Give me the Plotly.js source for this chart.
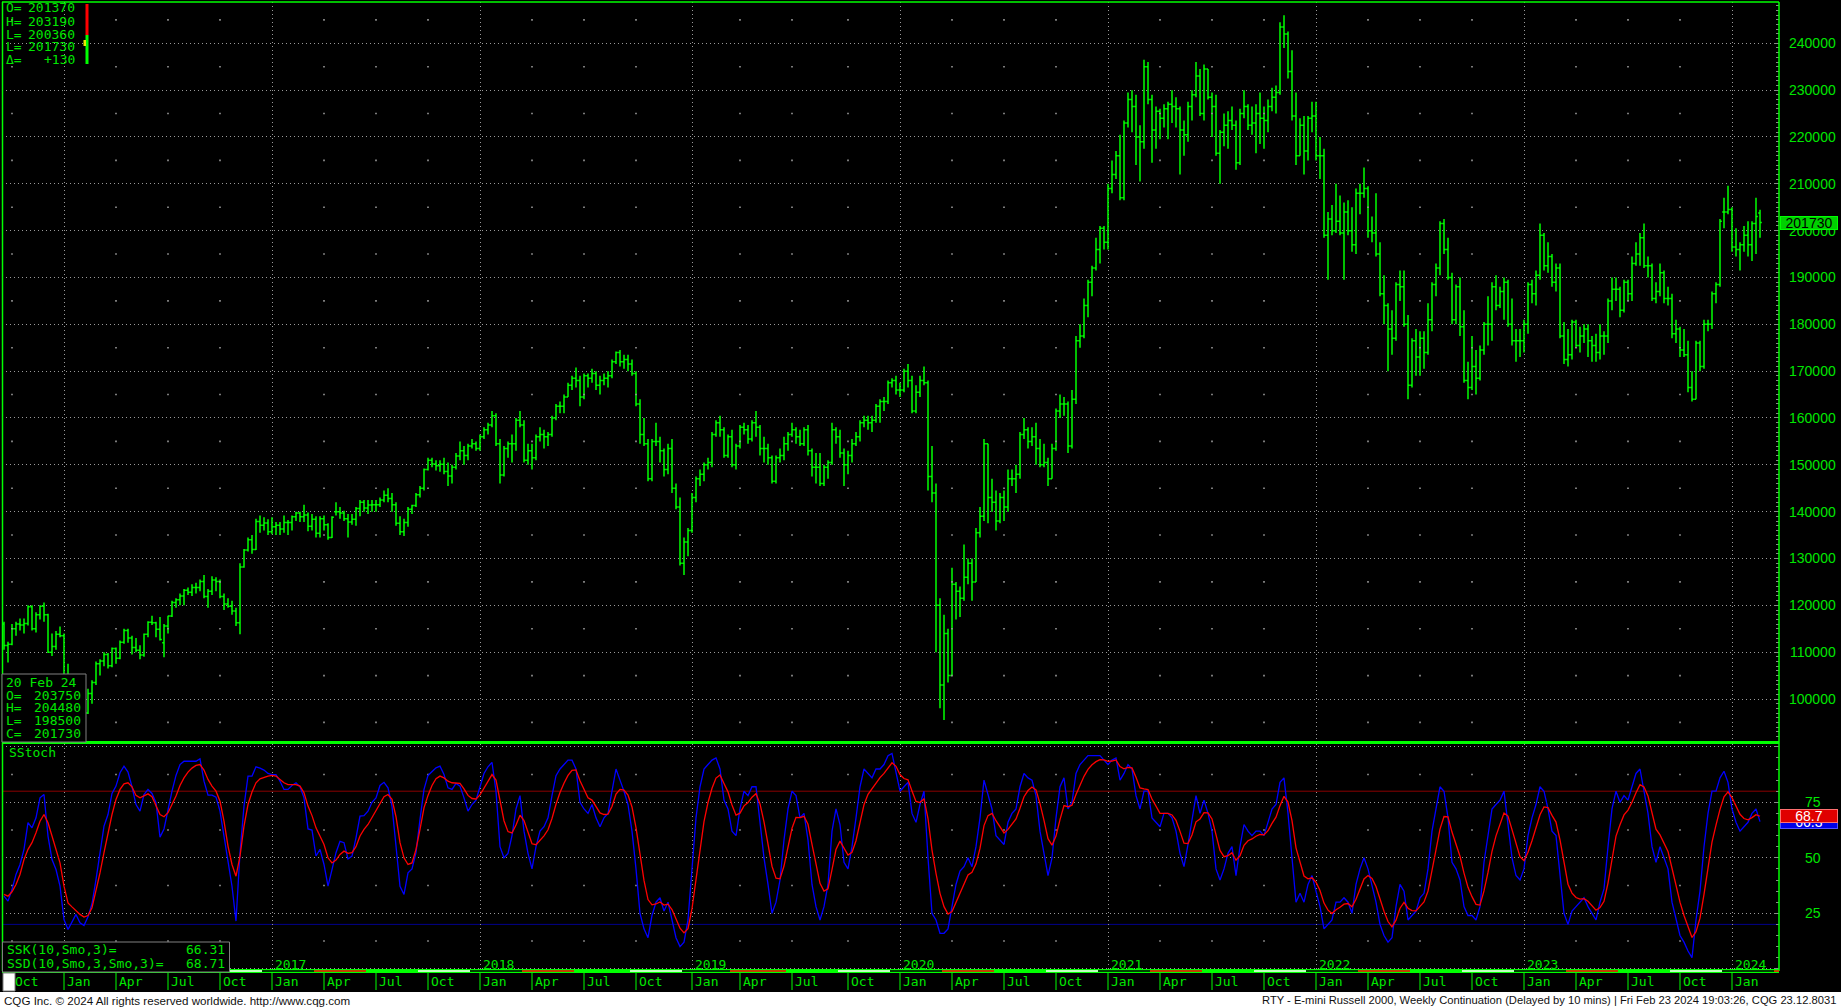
<!DOCTYPE html>
<html><head><meta charset="utf-8">
<script src="https://cdn.plot.ly/plotly-3.0.1.min.js"></script>
<style>html,body{margin:0;padding:0;background:#000;overflow:hidden}#chart{width:1841px;height:1008px}</style>
</head><body><div id="chart"></div>
<script>
// ---------------- DATA (weekly bars, first bar = week of 21 Sep 2015) ----------------
const firstWeek = '2015-09-21';
const openP = [
116000,111400,111700,115000,116000,115800,116100,119700,115000,118000,119800,118000,110000,111200,113800,
113500,104700,100700,101000,103500,98600,97000,101200,103500,107500,108100,109500,107100,110800,108700,112100,114600,113000,111000,110400,109400,113800,116400,116300,114900,112000,115600,117700,120600,121200,122000,123200,122800,123800,123800,125100,121900,123000,125400,125100,121900,120300,119800,118800,116300,128200,131800,134000,131900,137900,137100,137600,
135700,136800,137100,136300,137700,137700,138900,139700,138900,139300,136900,138400,135400,138500,137200,134500,140000,140000,139700,138500,137800,138400,140700,142000,140800,141400,141500,141500,142500,143500,142800,141500,137500,135700,137700,140500,141300,143600,145000,149000,151000,150200,149800,150100,148600,147600,149500,151900,153000,152000,154000,154500,
153500,156000,157500,158500,160500,154500,147800,153500,154500,154500,159500,158500,151000,153000,151500,156000,156500,156000,156500,160000,162500,162500,164500,167000,168500,168000,164500,169000,168500,169500,167000,168000,168500,169000,172000,174000,172000,172500,171500,169500,163000,156500,154500,147000,155000,155000,153000,149000,153500,145000,141000,129000,
133500,136000,143000,147000,148000,150000,150500,156500,159000,157500,152000,156000,150000,154000,158000,157500,155500,159000,158000,153500,153500,151500,146500,151500,152000,154500,156500,157500,156000,154500,157500,153000,149500,149500,146000,149500,150500,157500,156000,152500,150000,152000,154500,156000,159000,159500,159000,159500,162500,163500,163500,167500,
168000,166000,166000,170000,168000,161500,165500,168000,167500,147500,144000,120000,103000,114000,105000,124500,123000,121500,126000,129000,125000,135500,139000,154500,143000,142000,138000,143000,141000,147000,147000,148000,156500,157500,155000,156000,153500,150000,150500,147000,153500,161500,163000,163000,154000,164000,176500,177500,184000,189000,192000,196000,200500,
197500,209000,212000,216000,207000,223000,228000,226500,220000,219000,235000,228000,221500,225500,224000,226000,227000,226500,226000,221500,220500,226500,229000,233000,225000,234500,228500,226500,216500,221000,222500,223500,222500,214500,225000,226500,222500,223000,225000,224000,223500,226500,228500,229500,243500,242000,234000,224500,216000,222500,217000,224000,
224500,216000,216000,199000,202500,200000,202000,199500,204000,200000,197000,208000,208000,209000,200000,199500,195000,186500,184000,179000,177000,188500,188000,180000,167000,176500,173000,177000,174000,181000,188500,192000,201500,196000,190000,181000,188000,179500,168000,166500,171000,168500,174500,180000,180000,188000,184000,187000,189000,180000,176500,176500,
176500,180000,188500,186500,190500,199000,192500,194500,189000,192000,177500,172500,173500,180500,175500,177500,179000,176500,175500,174000,177500,177500,185000,187500,187500,183000,189000,186500,193000,195000,198500,192500,192500,185500,187000,191000,185500,185500,178000,179000,174500,173500,166500,164000,176000,171000,180000,180000,186500,188500,204000,204000,
204500,196500,196000,197000,199000,197000,201500,203750];
const highP = [
116500,112200,116000,116500,117200,117200,120000,120000,118500,120000,120600,118200,114000,114500,115500,
114000,107500,102000,104000,104000,99200,102200,104000,108000,108500,110000,109800,111000,111000,112500,115000,115000,113500,113000,111500,114000,116600,117800,116500,117500,116000,117800,121000,121500,122500,123500,123800,124500,124800,125500,126500,123500,126200,126000,125500,122500,121500,121000,119500,129000,132000,134500,135000,138500,139200,138800,138400,
138800,137800,137800,139200,138200,139200,140000,140000,141500,139800,139500,139000,139000,139200,137500,139000,142000,141000,140200,139500,139500,141000,142500,142500,142500,142500,142500,143000,144500,145000,144000,142000,139000,138500,141000,141500,144000,145500,149200,151500,151500,151000,151000,151500,150500,150000,152500,155000,154000,154500,155500,155000,
156500,158000,159000,161500,161000,155500,154000,155000,156500,160000,161500,159500,154500,154500,156500,158000,157500,157000,160500,163000,163500,165000,167500,169000,170800,169000,169500,169500,170500,170000,169000,169500,170000,172500,174200,174500,173500,173500,172500,170000,164000,160000,155500,155500,159000,156000,153500,154500,155500,146000,143000,134500,
136500,144000,147500,149000,150500,151500,157000,159500,160500,158000,156500,157500,154500,158500,159000,158500,159500,161500,158500,156000,154500,152000,152000,153500,156000,157000,159000,158000,157500,158000,158500,153500,152500,152500,150000,151000,159000,158000,157500,153500,153000,155500,157000,159500,160500,160500,160500,163000,164000,164500,168000,168500,
169000,167500,170500,171500,169000,167000,169000,171000,168000,154000,146000,121500,118000,115000,128000,125000,124000,133000,130000,130000,136500,141000,155500,154500,147000,144500,144000,144500,149000,149000,150000,157000,160000,158000,158000,159000,155500,154500,151500,154500,162000,165000,164500,163500,166000,177500,180000,185500,189500,192500,198500,201000,201000,
210000,215000,217000,220500,223500,229500,230000,229000,222500,236500,236000,229000,226500,226000,227000,227500,230000,228500,226500,223500,227500,230000,236000,234500,235500,234500,229500,229000,221500,225000,225500,226500,223500,226000,230000,227000,226500,227000,229500,226500,228000,230500,231000,244500,246000,242500,238500,229500,224000,224500,224500,227500,
227500,220000,217500,204000,205500,210000,207500,206000,206500,205000,209000,210000,213500,209500,203000,208000,197500,190500,184500,183000,189000,191500,191500,182000,177000,179000,178500,178500,184500,189000,193000,202000,202500,198500,191000,188500,190000,183000,172000,177500,174500,175500,180500,186000,189000,190500,188000,190000,189500,185500,179000,179000,
181000,189000,189500,191500,201500,199500,197500,195000,193000,193000,180500,179000,181000,181000,179500,180000,180000,177500,178000,180000,178500,185500,190000,190000,188000,189500,189500,194500,197500,199500,201500,194500,193000,189000,193000,191500,188000,186500,181000,179500,179000,176500,170000,176500,176500,181000,181000,187000,189000,202500,207000,209600,
205000,200500,197500,201000,202000,202000,207000,204480];
const lowP = [
110500,107800,111500,113500,114600,114000,115700,114600,114200,117000,116500,109800,109200,110500,113200,
104500,99600,95800,99000,98000,95300,96800,99000,103000,105000,107000,106500,106800,107500,108500,111800,112000,109500,110000,108500,109000,113200,115800,113200,112500,108900,114000,117500,119500,120000,120000,122200,122000,122500,123000,121500,119500,122200,123000,121500,119000,119500,118000,115600,113800,128000,131500,131000,131800,135500,136000,135000,
135200,135000,135000,135500,135000,136000,138000,137800,137800,135800,136000,134500,134500,136000,134000,134400,139200,138500,138000,134500,137200,137000,139000,140000,139500,140000,140000,141000,142000,142000,140000,137000,135000,134800,136800,139500,141000,143000,144500,148800,149500,148800,148500,148000,145500,146000,149000,151000,150000,151000,153500,153000,
153000,155500,156500,158000,154000,146000,147500,151500,150500,153000,158000,150500,150000,149000,151000,155000,153500,154000,156000,159500,161000,161000,164500,166000,166500,162500,164000,166500,167500,166000,165000,167000,166500,168500,171500,171000,170500,170000,169000,162500,154500,154000,146500,146500,154000,150500,147500,148000,144000,140500,128500,126500,
130500,135500,142000,145500,146500,149000,149500,156000,156000,151500,151500,149500,149000,153500,156500,154500,155000,156000,152000,150500,150000,146000,146000,150500,151000,153000,156000,154500,154000,154000,152000,147500,146000,145500,145500,147000,150000,154500,151500,145500,148000,150500,154000,155000,158000,157500,157000,159000,159000,161500,163000,166500,
165000,164500,165500,166500,161000,161000,164500,167000,144500,142000,110000,98000,95500,103500,105000,117000,117500,121000,124500,121000,125000,134500,138000,137500,140000,136000,137500,138000,140000,145500,144000,147000,155500,153500,154000,150000,149500,149500,145500,147000,153000,160000,160500,152500,153500,163000,175000,177000,181500,186000,191500,193000,196000,
196000,208000,211000,206500,206500,222000,221000,214000,210500,217500,227000,214500,217500,219500,222000,219500,223000,222000,212000,216000,219000,223500,228500,224500,223500,228000,220000,216000,210000,218000,217500,221500,213000,214000,224000,221500,220500,216500,218500,217500,221000,225500,225000,229000,239000,232500,223500,214000,216000,212000,215000,221000,
215000,211000,198500,189500,199000,199500,199000,189500,199000,195500,195000,203500,207000,198500,197500,194500,186000,180000,170000,173500,176500,185000,179500,164000,166500,169000,169000,170500,173500,178500,186000,190500,195000,189500,180000,180000,177500,167500,164000,166000,165000,168000,173500,175500,176500,183000,183500,181000,179500,175500,172000,173000,
174000,178000,184500,184000,189500,191500,191000,188000,187000,177000,171500,171000,172500,175000,174000,176000,173000,172000,172000,172500,173500,176000,183000,185000,181500,182500,185000,185000,192500,192500,192000,190000,185000,184500,186000,184500,184000,177000,176000,173000,173000,165500,163500,164000,170000,170500,178500,179000,184500,188000,200500,203500,
195500,194500,191500,195500,194500,193500,195000,198500];
const closeP = [
111400,111700,115000,116000,115800,116100,119700,115000,118000,119800,118000,110000,111200,113800,113500,
104700,100700,101000,103500,98600,97000,101200,103500,107500,108100,109500,107100,110800,108700,112100,114600,113000,111000,110400,109400,113800,116400,116300,114900,112700,115600,117700,120600,121200,122000,123200,122800,123800,123800,125100,121900,123000,125400,125100,121900,120300,119800,118800,116300,128200,131800,134000,131900,137900,137100,137600,135700,
136800,137100,136300,137700,137700,138900,139700,138900,139300,136900,138400,135400,138500,137200,134500,138800,140000,139700,138500,137800,138400,140700,142000,140800,141400,141500,141500,142500,143500,142800,141500,137500,135700,137700,140500,141300,143600,145000,149000,151000,150200,149800,150100,148600,147600,149500,151900,153000,152000,154000,154500,153500,
156000,157500,158500,160500,154500,147800,153500,154500,154500,159500,158500,151000,153000,151500,156000,156500,156000,156500,160000,162500,162500,164500,167000,168500,168000,164500,169000,168500,169500,167000,168000,168500,169000,172000,174000,172000,172500,171500,169500,163000,156500,154500,147000,155000,155000,153000,149000,153500,145000,141000,129000,133500,
136000,143000,147000,148000,150000,150500,156500,159000,157500,152000,156000,150000,154000,158000,157500,155500,159000,158000,153500,153500,151500,146500,151500,152000,154500,156500,157500,156000,154500,157500,153000,149500,149500,146000,149500,150500,157500,156000,152500,150000,152000,154500,156000,159000,159500,159000,159500,162500,163500,163500,167500,168000,
166000,166000,170000,168000,161500,165500,168000,167500,147500,144000,120000,103000,114000,105000,124500,123000,121500,126000,129000,125000,135500,139000,154500,143000,142000,138000,143000,141000,147000,147000,148000,156500,157500,155000,156000,153500,150000,150500,147000,153500,161500,163000,163000,154000,164000,176500,177500,184000,189000,192000,196000,200500,197500,
209000,212000,216000,207000,223000,228000,226500,220000,219000,235000,228000,221500,225500,224000,226000,227000,226500,226000,221500,220500,226500,229000,233000,225000,234500,228500,226500,216500,221000,222500,223500,222500,214500,225000,226500,222500,223000,225000,224000,223500,226500,228500,229500,243500,242000,234000,224500,216000,222500,217000,224000,224500,
216000,216000,199000,202500,200000,202000,199500,204000,200000,197000,208000,208000,209000,200000,199500,195000,186500,184000,179000,177000,188500,188000,180000,167000,176500,173000,177000,174000,181000,188500,192000,201500,196000,190000,181000,188000,179500,168000,166500,171000,168500,174500,180000,180000,188000,184000,187000,189000,180000,176500,176500,176500,
180000,188500,186500,190500,199000,192500,194500,189000,192000,177500,172500,173500,180500,175500,177500,179000,176500,175500,174000,177500,177500,185000,187500,187500,183000,189000,186500,193000,195000,198500,192500,192500,185500,187000,191000,185500,185500,178000,179000,174500,173500,166500,164000,176000,171000,180000,180000,186500,188500,202000,204000,204500,
196500,196000,197000,199000,197000,201500,203000,201730];

// SSK (blue) and SSD (red), one value per weekly bar
const sskValues = [
32.7,30.5,35.7,42.5,47,53.8,65.8,63.5,68,77,78.5,59.8,49.2,44.7,37.2,22.2,17.7,21,24.5,20.7,19.5,23.4,29.3,40.2,52.3,64.3,69.5,79,82.3,88.3,91.3,88.6,82,74,71,78.5,80.8,79,74.8,59.3,63,71.8,80,87.1,92,93.5,93.5,93.2,93.5,94.6,84.5,78.2,78.2,77.3,71,59.8,48.5,37.2,21.5,52.3,73.3,86.8,86.8,91,90.4,89.5,88,
87.5,87.5,84.5,80.8,80.8,82.6,83.8,82,77,63,62.5,50.8,53.8,47,37.2,44.7,52.3,57.4,56.8,49.5,50.8,59,68.8,69,71,75,77,82.6,84,81.5,73.3,55.3,37.2,33.5,43.2,45,52.3,67.3,80.8,87.1,89,90.5,91.3,87.5,81.5,80.8,83.5,82.3,77,71,
74,76,82,88,91,93,80,55,50,52,60,72,78,62,52,45,55,62,64,68,78,87,90,92,94,94,90,75,72,70,74,68,64,68,70,80,90,85,80,74,62,45,25,18,14,24,30,32,26,30,22,14,10,12,
22,45,68,82,90,92,94,95,90,76,72,62,60,72,80,78,82,82,65,50,38,25,30,40,58,72,80,78,68,70,58,38,28,22,28,38,62,72,65,48,45,55,68,82,90,88,86,90,90,92,96,97,
88,80,82,84,70,66,74,80,50,25,22,16,16,18,28,38,44,46,50,46,55,68,85,78,72,60,58,56,66,70,72,82,88,86,85,78,62,52,42,50,68,82,86,72,75,88,92,94,96,96,96,96,94,
92,94,95,85,88,92,90,78,72,80,80,68,66,64,70,70,68,62,52,46,56,68,78,70,76,70,62,45,40,45,52,55,42,55,65,62,60,62,62,60,66,72,74,84,86,70,50,30,34,30,38,42,
35,28,18,20,22,30,30,32,30,25,38,45,50,45,38,30,20,15,12,14,28,38,35,22,24,26,32,34,45,62,72,82,80,68,48,45,40,28,24,24,22,28,48,60,72,74,76,80,66,50,42,40,
45,60,68,74,82,80,72,62,60,42,25,20,26,28,30,32,28,25,22,30,36,55,72,80,75,78,76,82,88,90,80,70,55,48,55,50,45,30,22,15,12,8,5,22,35,55,70,80,80,86,89,84,
72,66,62,64,66,70,72,66.31];
const ssdValues = [
33.5,32.7,34.7,38,42.5,49.2,53.8,56.8,61.3,66.5,69.5,65.8,59.8,53.8,47.7,37.2,29.7,27.9,26,24.5,23.3,24,27.5,35,43.2,52.3,61.3,69.5,76.3,80.8,83.3,83.8,82,78.1,77,77.8,78.8,77.5,73.3,69.5,68.5,70.3,74,77.8,82.6,86,88.6,90.4,91.6,92,89.5,85.3,82.3,80,75.5,66.5,55.3,47,41.7,50.8,64.3,74,79.6,83.8,85.6,86.3,86.8,
87.1,86.8,85.3,83.8,83,82.9,83,82.3,79.3,73.3,69,63.5,59.8,56,50,47.7,49,51.5,53,52,52.3,55,59.8,62.8,65,68,71,74,77.5,78.5,76.3,68.5,56.8,50,47,47.7,53.8,62.8,72.5,78.1,82.6,85.6,86.8,86,84.5,83.8,83.5,83.5,81,78.1,
76.7,76.5,78.3,81.5,84.7,87.5,85.0,75.0,66.7,61.8,61.2,64.8,69.2,66.8,61.9,56.3,55.9,57.9,59.9,62.6,67.7,74.1,79.4,83.6,87.1,89.4,89.6,84.7,80.5,77.0,76.0,73.3,70.2,69.5,69.7,73.1,78.7,80.8,80.5,78.3,72.9,63.6,50.7,39.8,31.2,28.8,29.2,30.1,28.7,29.1,26.7,22.5,18.3,16.2,
18.1,27.1,40.7,54.5,66.3,74.9,81.3,85.9,87.3,83.5,79.7,73.8,69.2,70.1,73.4,74.9,77.3,78.9,74.3,66.2,56.8,46.2,40.8,40.5,46.3,54.9,63.3,68.2,68.1,68.7,65.1,56.1,46.7,38.5,35.0,36.0,44.7,53.8,57.5,54.3,51.2,52.5,57.7,65.8,73.9,78.6,81.1,84.1,86.1,88.0,90.7,92.8,
91.2,87.5,85.7,85.1,80.1,75.4,74.9,76.6,67.7,53.5,43.0,34.0,28.0,24.7,25.8,29.9,34.6,38.4,42.3,43.5,47.3,54.2,64.5,69.0,70.0,66.7,63.8,61.2,62.8,65.2,67.5,72.3,77.5,80.3,81.9,80.6,74.4,66.9,58.6,55.7,59.8,67.2,73.5,73.0,73.7,78.5,83.0,86.7,89.8,91.9,93.3,94.2,94.1,
93.4,93.6,94.1,91.1,90.1,90.7,90.5,86.3,81.5,81.0,80.7,76.5,73.0,70.0,70.0,70.0,69.3,66.9,61.9,56.6,56.4,60.3,66.2,67.5,70.3,70.2,67.5,60.0,53.3,50.5,51.0,52.3,48.9,50.9,55.6,57.7,58.5,59.7,60.5,60.3,62.2,65.5,68.3,73.5,77.7,75.1,66.7,54.5,47.7,41.8,40.5,41.0,
39.0,35.3,29.6,26.4,24.9,26.6,27.7,29.1,29.4,27.9,31.3,35.8,40.5,42.0,40.7,37.1,31.4,25.9,21.3,18.9,21.9,27.3,29.9,27.3,26.2,26.1,28.1,30.1,35.0,44.0,53.3,62.9,68.6,68.4,61.6,56.1,50.7,43.1,36.7,32.5,29.0,28.7,35.1,43.4,52.9,59.9,65.3,70.2,68.8,62.5,55.7,50.5,
48.7,52.5,57.7,63.1,69.4,72.9,72.6,69.1,66.1,58.1,47.1,38.1,34.1,32.1,31.4,31.6,30.4,28.6,26.4,27.6,30.4,38.6,49.7,59.8,64.9,69.3,71.5,75.0,79.3,82.9,81.9,77.9,70.3,62.9,60.3,56.9,52.9,45.3,37.5,30.0,24.0,18.7,14.1,16.7,22.8,33.5,45.7,57.1,64.7,71.8,77.5,79.7,
77.1,73.4,69.6,67.7,67.1,68.1,69.4,68.71];

const monthNames = ['Jan','Apr','Jul','Oct'];
const yearLabels = ['2017','2018','2019','2020','2021','2022','2023','2024'];
const priceTicks = [100000,110000,120000,130000,140000,150000,160000,170000,180000,190000,200000,210000,220000,230000,240000];
const stochTicks = [25,50,75];
const dailyLabels = ['O=','H=','L=','L=','\u0394='];
const dailyValues = ['201370','203190','200360','201730','+130'];
const barDate = '20 Feb 24';
const barLabels = ['O=','H=','L=','C='];
const barValues = ['203750','204480','198500','201730'];
const lastClose = 201730;
const sskLast = 66.31, ssdLast = 68.71;

// ---------------- dates ----------------
const N = closeP.length;
const DAY = 86400000;
const t0 = Date.parse(firstWeek + 'T00:00:00Z');
const dates = [];
for (let i = 0; i < N; i++) dates.push(new Date(t0 + i * 7 * DAY).toISOString().slice(0, 10));
const iso = ms => new Date(ms).toISOString().replace('T', ' ').slice(0, 19);

// ---------------- geometry helpers ----------------
const PL = 2, PR = 1779, PT = 2, PB = 971;
const px = x => (x - PL) / (PR - PL);
const py = y => (PB - y) / (PB - PT);
const GREEN = '#00ff00', TXT = '#00e600', GRID = '#9a9a9a';
const MONO = '"DejaVu Sans Mono","Liberation Mono",monospace';
const SANS = '"Liberation Sans",Arial,sans-serif';
const xStart = '2015-09-17 12:00:00', xEnd = '2024-03-23 06:00:00';

const qTicks = [];
for (let i = 1; i < N; i++) {
  const m = +dates[i].slice(5, 7) - 1, pm = +dates[i - 1].slice(5, 7) - 1;
  if (m !== pm && m % 3 === 0) qTicks.push({x: dates[i], m, y: +dates[i].slice(0, 4)});
}
const janTicks = qTicks.filter(q => q.m === 0);

const shapes = [], annotations = [];
function rectPx(x0, y0, x1, y1, fill, line, lw) {
  shapes.push({type: 'rect', xref: 'paper', yref: 'paper', x0: px(x0), x1: px(x1), y0: py(y0), y1: py(y1),
    fillcolor: fill, line: {color: line || fill, width: lw || 0}, layer: 'above'});
}
function linePx(x0, y0, x1, y1, color, w) {
  shapes.push({type: 'line', xref: 'paper', yref: 'paper', x0: px(x0), x1: px(x1), y0: py(y0), y1: py(y1), line: {color, width: w}, layer: 'above'});
}
function textPx(x, y, text, anchor, opts) {
  annotations.push(Object.assign({xref: 'paper', yref: 'paper', x: px(x), y: py(y), text, showarrow: false,
    xanchor: anchor || 'left', yanchor: 'middle', font: {family: MONO, size: 13, color: TXT}}, opts || {}));
}

shapes.push({type: 'line', xref: 'paper', yref: 'y2', x0: 0, x1: 1, y0: 80, y1: 80, line: {color: '#8a0000', width: 1}, layer: 'below'});
shapes.push({type: 'line', xref: 'paper', yref: 'y2', x0: 0, x1: 1, y0: 20, y1: 20, line: {color: '#00008a', width: 1}, layer: 'below'});

linePx(2, 2, 1779, 2, GREEN, 1.5);
linePx(2.5, 2, 2.5, 971, GREEN, 1.5);
linePx(1779, 2, 1779, 971, GREEN, 1.5);
linePx(2, 742.5, 1779, 742.5, GREEN, 3);

// contract strip
rectPx(2, 969, 1779, 973, GREEN);
function thirdFriday(y, mo) { const d = new Date(Date.UTC(y, mo, 1)); const first = 1 + ((5 - d.getUTCDay() + 7) % 7); return Date.UTC(y, mo, first + 14); }
const expiries = [];
for (let y = 2015; y <= 2024; y++) for (const mo of [2, 5, 8, 11]) expiries.push({t: thirdFriday(y, mo), mo});
const contractColor = {2: '#000000', 5: '#ff0000', 8: GREEN, 11: '#ffffff'};
const tEnd = Date.parse('2024-03-23T06:00:00Z'), tBeg = Date.parse('2015-09-17T12:00:00Z');
const segs = [];
let seg = null;
for (let t = t0 - 7 * DAY; t < tEnd + 7 * DAY; t += 7 * DAY) {
  const e = expiries.find(ex => ex.t >= t);
  const c = contractColor[e.mo];
  const a = Math.max(t - 3.5 * DAY, tBeg), b = Math.min(t + 3.5 * DAY, tEnd);
  if (b <= a) continue;
  if (seg && seg.c === c) seg.b = b; else { if (seg) segs.push(seg); seg = {a, b, c}; }
}
if (seg) segs.push(seg);
for (const s of segs) shapes.push({type: 'rect', xref: 'x', yref: 'paper', x0: iso(s.a), x1: iso(s.b), y0: py(970.3), y1: py(971.8), fillcolor: s.c, line: {width: 0}, layer: 'above'});

for (const q of qTicks) {
  shapes.push({type: 'line', xref: 'x', yref: 'paper', x0: q.x, x1: q.x, y0: py(973), y1: py(990), line: {color: GREEN, width: 1}, layer: 'above'});
  annotations.push({xref: 'x', yref: 'paper', x: q.x, y: py(981.5), xanchor: 'left', xshift: 1, yanchor: 'middle', showarrow: false,
    text: monthNames[q.m / 3], font: {family: MONO, size: 13, color: TXT}});
}
for (const j of janTicks) {
  if (!yearLabels.includes(String(j.y))) continue;
  annotations.push({xref: 'x', yref: 'paper', x: j.x, y: py(964), xanchor: 'left', xshift: 1, yanchor: 'middle', showarrow: false,
    text: String(j.y), font: {family: MONO, size: 13, color: TXT}});
}

for (const v of priceTicks) annotations.push({xref: 'paper', yref: 'y', x: px(1812.5), y: v, xanchor: 'center', yanchor: 'middle', showarrow: false, text: String(v), font: {family: SANS, size: 14, color: TXT}});
for (const v of stochTicks) annotations.push({xref: 'paper', yref: 'y2', x: px(1812.5), y: v, xanchor: 'center', yanchor: 'middle', showarrow: false, text: String(v), font: {family: SANS, size: 14, color: TXT}});
annotations.push({xref: 'paper', yref: 'y', x: px(1780), y: lastClose, xanchor: 'left', yanchor: 'middle', showarrow: false, text: String(lastClose),
  bgcolor: '#00d000', bordercolor: GREEN, borderwidth: 1, borderpad: 0, width: 56, height: 12, font: {family: SANS, size: 14, color: '#000'}});
annotations.push({xref: 'paper', yref: 'y2', x: px(1780), y: sskLast, xanchor: 'left', yanchor: 'middle', showarrow: false, text: sskLast.toFixed(1),
  bgcolor: '#0000e8', bordercolor: '#5050ff', borderwidth: 1, borderpad: 0, width: 56, height: 12, font: {family: SANS, size: 14, color: '#fff'}});
annotations.push({xref: 'paper', yref: 'y2', x: px(1780), y: ssdLast, xanchor: 'left', yanchor: 'middle', showarrow: false, text: ssdLast.toFixed(1),
  bgcolor: '#e00000', bordercolor: '#ff7070', borderwidth: 1, borderpad: 0, width: 56, height: 12, font: {family: SANS, size: 14, color: '#fff'}});

const infoY = [8, 21, 34, 47, 60];
dailyLabels.forEach((l, i) => { textPx(4, infoY[i], l, 'left'); textPx(76.5, infoY[i], dailyValues[i], 'right'); });
rectPx(85.5, 4, 88.5, 35, '#ff0000');
rectPx(85.5, 35, 88.5, 64, GREEN);
rectPx(83.5, 40, 86, 46, '#e8e800');

rectPx(2, 674, 86, 742, '#000000', '#808080', 1);
textPx(4, 682, barDate, 'left');
const biY = [695, 707.5, 720, 733];
barLabels.forEach((l, i) => { textPx(4, biY[i], l, 'left'); textPx(83, biY[i], barValues[i], 'right'); });

textPx(7, 752.5, 'SStoch', 'left');
rectPx(2.5, 942, 229.5, 972, '#000000', '#808080', 1);
textPx(4.5, 949.5, 'SSK(10,Smo,3)=', 'left'); textPx(227, 949.5, sskLast.toFixed(2), 'right');
textPx(4.5, 963, 'SSD(10,Smo,3,Smo,3)=', 'left'); textPx(227, 963, ssdLast.toFixed(2), 'right');

rectPx(3, 973, 15, 991, '#ffffff', '#808080', 1);

rectPx(0, 992, 1841, 1008, '#ffffff');
textPx(2, 1000, 'CQG Inc. \u00a9 2024 All rights reserved worldwide. http://www.cqg.com', 'left', {font: {family: SANS, size: 11.6, color: '#111'}});
textPx(1838, 1000, 'RTY - E-mini Russell 2000, Weekly Continuation (Delayed by 10 mins) | Fri Feb 23 2024 19:03:26, CQG 23.12.8031', 'right', {font: {family: SANS, size: 11.2, color: '#111'}});

const dotX = [], dotY = [], dotX2 = [], dotY2 = [];
for (const q of qTicks) {
  if (q.m === 0) continue;
  for (let v = 95000; v <= 245000; v += 10000) { dotX.push(q.x); dotY.push(v); }
  for (const v of [12.5, 37.5, 62.5, 87.5]) { dotX2.push(q.x); dotY2.push(v); }
}

const traces = [
  {type: 'scatter', mode: 'markers', x: dotX, y: dotY, xaxis: 'x', yaxis: 'y', marker: {size: 1.6, color: GRID, symbol: 'square'}, hoverinfo: 'skip'},
  {type: 'scatter', mode: 'markers', x: dotX2, y: dotY2, xaxis: 'x', yaxis: 'y2', marker: {size: 1.6, color: GRID, symbol: 'square'}, hoverinfo: 'skip'},
  {type: 'ohlc', x: dates, open: openP, high: highP, low: lowP, close: closeP, xaxis: 'x', yaxis: 'y', tickwidth: 0.45,
    increasing: {line: {color: GREEN, width: 1.5}}, decreasing: {line: {color: GREEN, width: 1.5}}, hoverinfo: 'skip'},
  {type: 'scatter', mode: 'lines', x: dates, y: sskValues, xaxis: 'x', yaxis: 'y2', line: {color: '#0000ff', width: 1.3}, hoverinfo: 'skip'},
  {type: 'scatter', mode: 'lines', x: dates, y: ssdValues, xaxis: 'x', yaxis: 'y2', line: {color: '#ff0000', width: 1.3}, hoverinfo: 'skip'}
];

const layout = {
  width: 1841, height: 1008, margin: {l: PL, r: 1841 - PR, t: PT, b: 1008 - PB},
  paper_bgcolor: '#000', plot_bgcolor: '#000', showlegend: false,
  xaxis: {type: 'date', range: [xStart, xEnd], tickmode: 'array', tickvals: janTicks.map(j => j.x), showticklabels: false, ticks: '',
    showgrid: true, gridcolor: GRID, griddash: '1px,3px', gridwidth: 1, zeroline: false, showline: false, rangeslider: {visible: false}, fixedrange: true, anchor: 'y2'},
  yaxis: {domain: [py(741), 1], range: [91032, 248818], side: 'right', anchor: 'x', tickmode: 'linear', tick0: 0, dtick: 10000, showticklabels: false,
    ticks: 'inside', ticklen: 5, tickcolor: '#8a8a8a', tickwidth: 1,
    minor: {tickmode: 'linear', tick0: 0, dtick: 1000, ticks: 'inside', ticklen: 3, tickcolor: '#8a8a8a', showgrid: false},
    showgrid: true, gridcolor: GRID, griddash: '1px,3px', gridwidth: 1, zeroline: false, showline: false, fixedrange: true},
  yaxis2: {domain: [0, py(744)], range: [-0.99, 101.26], side: 'right', anchor: 'x', tickmode: 'array', tickvals: [0, 25, 50, 75, 100], showticklabels: false,
    ticks: 'inside', ticklen: 5, tickcolor: '#8a8a8a', tickwidth: 1,
    minor: {tickmode: 'linear', tick0: 0, dtick: 5, ticks: 'inside', ticklen: 3, tickcolor: '#8a8a8a', showgrid: false},
    showgrid: true, gridcolor: GRID, griddash: '1px,3px', gridwidth: 1, zeroline: false, showline: false, fixedrange: true},
  shapes, annotations
};
Plotly.newPlot('chart', traces, layout, {staticPlot: true, displayModeBar: false});
</script></body></html>
